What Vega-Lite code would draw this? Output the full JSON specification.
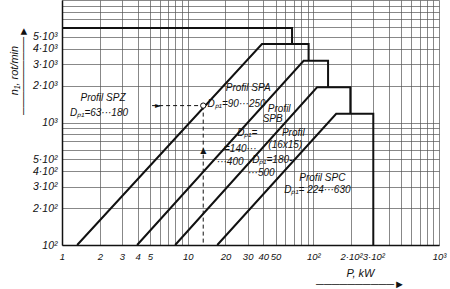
{
  "$schema": "https://vega.github.io/schema/vega-lite/v6.json",
  "width": 377,
  "height": 245,
  "autosize": {"type": "none"},
  "padding": {"left": 62, "top": 0, "right": 11, "bottom": 44},
  "background": "white",
  "config": {
    "view": {"stroke": null},
    "font": "Liberation Sans",
    "axis": {
      "labelFont": "Liberation Sans",
      "labelFontStyle": "italic",
      "labelFontSize": 10.5,
      "labelColor": "#111",
      "titleFont": "Liberation Sans",
      "titleFontStyle": "italic",
      "titleFontWeight": "normal",
      "titleFontSize": 11,
      "titleColor": "#111",
      "ticks": false,
      "domainColor": "#111",
      "domainWidth": 1.5,
      "gridColor": "#555",
      "gridWidth": 0.7,
      "labelOverlap": false,
      "labelFlush": false,
      "labelBound": false
    }
  },
  "datasets": {
    "lines": [
      {"s": "A", "i": 0, "P": 1, "n": 5900},
      {"s": "A", "i": 1, "P": 67.7, "n": 5900},
      {"s": "A", "i": 2, "P": 67.7, "n": 4364},
      {"s": "B", "i": 0, "P": 1.32, "n": 100},
      {"s": "B", "i": 1, "P": 39, "n": 4364},
      {"s": "B", "i": 2, "P": 91.7, "n": 4364},
      {"s": "B", "i": 3, "P": 91.7, "n": 3192},
      {"s": "C", "i": 0, "P": 3.96, "n": 100},
      {"s": "C", "i": 1, "P": 83.7, "n": 3192},
      {"s": "C", "i": 2, "P": 131, "n": 3192},
      {"s": "C", "i": 3, "P": 131, "n": 1937},
      {"s": "D", "i": 0, "P": 7.95, "n": 100},
      {"s": "D", "i": 1, "P": 107, "n": 1937},
      {"s": "D", "i": 2, "P": 197, "n": 1937},
      {"s": "D", "i": 3, "P": 197, "n": 1177},
      {"s": "E", "i": 0, "P": 17.2, "n": 100},
      {"s": "E", "i": 1, "P": 152, "n": 1177},
      {"s": "E", "i": 2, "P": 300, "n": 1177},
      {"s": "E", "i": 3, "P": 300, "n": 100}
    ],
    "ref": [
      {"s": "h", "i": 0, "P": 5.21, "n": 1374},
      {"s": "h", "i": 1, "P": 13.3, "n": 1374},
      {"s": "v", "i": 0, "P": 13.3, "n": 1374},
      {"s": "v", "i": 1, "P": 13.3, "n": 100}
    ],
    "point": [{"P": 13.3, "n": 1374}],
    "labels": [
      {"P": 2.12, "n": 1596, "t": "Profil SPZ"},
      {"P": 1.97, "n": 1205, "t": "Dₚ₁=63···180"},
      {"P": 30.3, "n": 1926, "t": "Profil SPA"},
      {"P": 24.5, "n": 1427, "t": "Dₚ₁=90···250"},
      {"P": 53.5, "n": 1300, "t": "Profil"},
      {"P": 47.5, "n": 1078, "t": "SPB"},
      {"P": 29.8, "n": 814, "t": "Dₚ₁="},
      {"P": 26.2, "n": 603, "t": "=140···"},
      {"P": 21.8, "n": 473, "t": "···400"},
      {"P": 69.3, "n": 814, "t": "Profil"},
      {"P": 59.8, "n": 650, "t": "(16x15)"},
      {"P": 47.1, "n": 491, "t": "Dₚ₁=180-"},
      {"P": 38.5, "n": 385, "t": "···500"},
      {"P": 118, "n": 351, "t": "Profil SPC"},
      {"P": 107.6, "n": 280, "t": "Dₚ₁= 224···630"}
    ],
    "arrows": [
      {"P": 5.82, "n": 1374, "t": "►"},
      {"P": 13.3, "n": 581, "t": "▲"}
    ]
  },
  "encoding": {
    "x": {
      "field": "P",
      "type": "quantitative",
      "scale": {"type": "log", "domain": [1, 1000], "nice": false},
      "axis": {
        "title": ["P, kW", "──────────►"],
        "titleX": 298,
        "titleY": 28,
        "titleAlign": "center",
        "titleBaseline": "middle",
        "titleLineHeight": 11,
        "labelPadding": 6,
        "labelFontSize": 9.5,
        "values": [1, 2, 3, 4, 5, 6, 7, 8, 9, 10, 20, 30, 40, 50, 60, 70, 80, 90, 100, 200, 300, 400, 500, 600, 700, 800, 900, 1000],
        "labelExpr": "datum.value == 100 ? '10²' : datum.value == 200 ? '2·10²' : datum.value == 300 ? '3·10²' : datum.value == 1000 ? '10³' : (indexof([1,2,3,4,5,10,20,30,40,50], datum.value) >= 0 ? toString(datum.value) : '')"
      }
    },
    "y": {
      "field": "n",
      "type": "quantitative",
      "scale": {"type": "log", "domain": [100, 10000], "nice": false},
      "axis": {
        "title": ["n₁, rot/min", "──────────►"],
        "titleX": -48,
        "titleY": 70,
        "titleAngle": -90,
        "titleAlign": "center",
        "titleBaseline": "middle",
        "titleLineHeight": 9,
        "labelPadding": 5,
        "values": [100, 200, 300, 400, 500, 600, 700, 800, 900, 1000, 2000, 3000, 4000, 5000, 6000, 7000, 8000, 9000, 10000],
        "labelExpr": "datum.value == 100 ? '10²' : datum.value == 200 ? '2·10²' : datum.value == 300 ? '3·10²' : datum.value == 400 ? '4·10²' : datum.value == 500 ? '5·10²' : datum.value == 1000 ? '10³' : datum.value == 2000 ? '2·10³' : datum.value == 3000 ? '3·10³' : datum.value == 4000 ? '4·10³' : datum.value == 5000 ? '5·10³' : ''"
      }
    }
  },
  "layer": [
    {
      "data": {"name": "lines"},
      "mark": {"type": "line", "color": "#111", "strokeWidth": 2, "interpolate": "linear"},
      "encoding": {
        "detail": {"field": "s"},
        "order": {"field": "i", "type": "quantitative"}
      }
    },
    {
      "data": {"name": "ref"},
      "mark": {"type": "line", "color": "#111", "strokeWidth": 1, "strokeDash": [4, 3]},
      "encoding": {
        "detail": {"field": "s"},
        "order": {"field": "i", "type": "quantitative"}
      }
    },
    {
      "data": {"name": "point"},
      "mark": {"type": "point", "shape": "circle", "filled": true, "fill": "white", "stroke": "#111", "strokeWidth": 1, "size": 28, "opacity": 1}
    },
    {
      "data": {"name": "labels"},
      "mark": {"type": "text", "font": "Liberation Sans", "fontStyle": "italic", "fontSize": 10, "color": "#111", "align": "center", "baseline": "middle"},
      "encoding": {"text": {"field": "t"}}
    },
    {
      "data": {"name": "arrows"},
      "mark": {"type": "text", "font": "DejaVu Sans", "fontSize": 8, "color": "#111", "align": "center", "baseline": "middle"},
      "encoding": {"text": {"field": "t"}}
    }
  ]
}
